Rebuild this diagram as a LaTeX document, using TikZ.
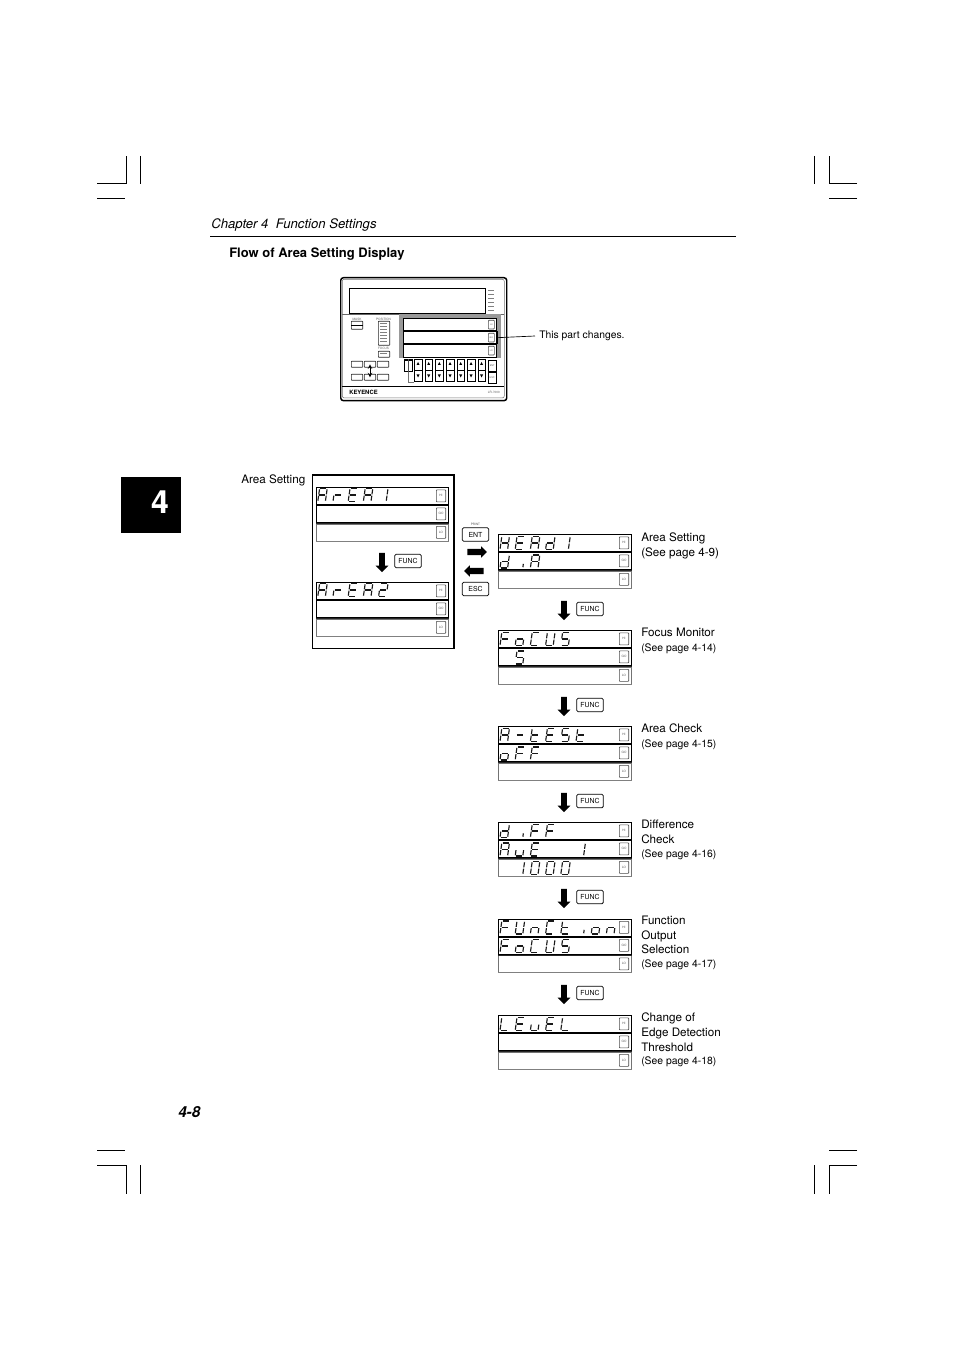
\documentclass[tikz,border=0pt]{standalone}
\usepackage{fontspec}
\setmainfont{TeX Gyre Heros}
\usetikzlibrary{shapes.arrows}

% seven segment strokes, cell is 7.6 wide and 13 high
\def\sega{\draw[segstroke] (0.8,0) -- (6.8,0);}
\def\segb{\draw[segstroke] (7.6,0.8) -- (7.6,5.9);}
\def\segc{\draw[segstroke] (7.6,7.1) -- (7.6,12.2);}
\def\segd{\draw[segstroke] (0.8,13) -- (6.8,13);}
\def\sege{\draw[segstroke] (0,7.1) -- (0,12.2);}
\def\segf{\draw[segstroke] (0,0.8) -- (0,5.9);}
\def\segg{\draw[segstroke] (0.8,6.5) -- (6.8,6.5);}
\def\segj{\draw[segstroke] (7.6,8.8) -- (7.6,12.2);}
\def\segn{}
% which strokes each character lights
\newcommand{\setglyph}[2]{\expandafter\def\csname glyph#1\endcsname{#2}}
\setglyph{A}{a,b,c,e,f,g}
\setglyph{C}{a,d,e,f}
\setglyph{E}{a,d,e,f,g}
\setglyph{F}{a,e,f,g}
\setglyph{H}{b,c,e,f,g}
\setglyph{L}{d,e,f}
\setglyph{S}{a,c,d,f,g}
\setglyph{U}{b,c,d,e,f}
\setglyph{d}{b,c,d,e,g}
\setglyph{i}{j}
\setglyph{n}{c,e,g}
\setglyph{o}{c,d,e,g}
\setglyph{r}{e,g}
\setglyph{t}{d,e,f,g}
\setglyph{u}{c,d,e}
\setglyph{0}{a,b,c,d,e,f}
\setglyph{1}{b,c}
\setglyph{2}{a,b,d,e,g}
\setglyph{5}{a,c,d,f,g}
\setglyph{-}{g}
\setglyph{_}{n}

\newcommand{\segrow}[3]{%
  \foreach \ch [count=\k from 0] in {#3} {
    \edef\seglist{\csname glyph\ch\endcsname}
    \begin{scope}[shift={(#1+1.8+\k*15.2,#2)},xslant=0.14]
      \foreach \s in \seglist {\csname seg\s\endcsname}
    \end{scope}
  }}

% one display: name, x, y, width, contents
\newcommand{\dispgroup}[5]{%
  \node[window,minimum width=#4*0.75pt] (#1hi) at (#2,#3) {};
  \node[window,minimum width=#4*0.75pt] (#1go) at (#2,#3+18) {};
  \node[windowlow,minimum width=#4*0.75pt] (#1lo) at (#2,#3+36.5) {};
  \draw[topedge] (#1lo.north west) -- (#1lo.north east);
  \draw[lowedge] (#1lo.south west) -- (#1lo.south east);
  \node[keybox] (#1hikey) at (#2+#4-12,#3+2.5) {HI};
  \node[keybox] (#1gokey) at (#2+#4-12,#3+20.5) {GO};
  \node[keybox] (#1lokey) at (#2+#4-12,#3+39) {LO};
  #5}

\newcommand{\funcstep}[3]{%
  \node[downarrow] (#1arrow) at (#2,#3) {};
  \node[keyname] (#1key) at (#2+26,#3) {FUNC};}

\begin{document}
\begin{tikzpicture}[x=0.75pt,y=-0.75pt]
      \tikzstyle{segstroke} = [draw=black!90, line width=0.85pt]
      \tikzstyle{crop} = [draw=black, line width=0.75pt]
      \tikzstyle{window} = [rectangle, draw=black, line width=0.8pt, anchor=north west, minimum height=12.8pt, inner sep=0pt]
      \tikzstyle{windowlow} = [window, draw=black!55, line width=0.5pt]
      \tikzstyle{topedge} = [draw=black!85, line width=0.5pt]
      \tikzstyle{lowedge} = [draw=black!50, line width=1pt]
      \tikzstyle{keybox} = [rectangle, rounded corners=0.5pt, draw=black!70, line width=0.5pt, anchor=north west, minimum width=7pt, minimum height=9pt, inner sep=0pt, font=\fontsize{2.3pt}{3pt}\selectfont, text=black!70]
      \tikzstyle{keyname} = [rectangle, rounded corners=1pt, draw=black, line width=0.6pt, minimum width=20pt, minimum height=10pt, inner sep=0pt, font=\fontsize{5.2pt}{6pt}\selectfont]
      \tikzstyle{downarrow} = [single arrow, fill=black, inner sep=2pt, shape border rotate=270, minimum height=14.5pt, single arrow head extend=2.6pt, single arrow tip angle=90]
      \tikzstyle{sidearrow} = [single arrow, fill=black, inner sep=2.2pt, minimum height=14.5pt, single arrow head extend=1.9pt, single arrow tip angle=90]
      \tikzstyle{caption} = [anchor=north west, inner sep=0pt, align=left, font=\fontsize{8.75pt}{10.9pt}\selectfont]
      \tikzstyle{seepage} = [anchor=north west, inner sep=0pt, font=\fontsize{7.8pt}{9pt}\selectfont]
      \tikzstyle{readout} = [anchor=north west, inner sep=0pt, text opacity=0, font=\fontsize{9pt}{10pt}\selectfont]
      \tikzstyle{panelkey} = [rectangle, rounded corners=0.4pt, draw=black!85, line width=0.5pt, anchor=north west, inner sep=0pt, minimum width=8.5pt, minimum height=4.5pt]
      \tikzstyle{padkey} = [rectangle, draw=black, line width=0.5pt, anchor=north west, inner sep=0pt, minimum width=5.8pt, minimum height=8pt]
      \tikzstyle{tinytext} = [inner sep=0pt, text=black!65, font=\fontsize{2.3pt}{3pt}\selectfont]
      \useasboundingbox (0,0) rectangle (954,1351);
      %crop marks
      \draw[crop] (97,184) -- (126,184) -- (126,156);
      \draw[crop] (140,156) -- (140,184);
      \draw[crop] (97,199) -- (125,199);
      \draw[crop] (857,184) -- (829,184) -- (829,156);
      \draw[crop] (814,156) -- (814,184);
      \draw[crop] (857,199) -- (829,199);
      \draw[crop] (97,1165) -- (126,1165) -- (126,1194);
      \draw[crop] (140,1165) -- (140,1194);
      \draw[crop] (97,1150) -- (125,1150);
      \draw[crop] (857,1165) -- (829,1165) -- (829,1194);
      \draw[crop] (814,1165) -- (814,1194);
      \draw[crop] (857,1150) -- (829,1150);
      %page furniture
      \node[anchor=base west, inner sep=0pt, font=\itshape\fontsize{9.85pt}{11pt}\selectfont] (chapter) at (211,229) {Chapter 4\ \ Function Settings};
      \coordinate (ruleleft) at (210,236);
      \coordinate (ruleright) at (736,236);
      \draw[line width=0.6pt] (ruleleft) -- (ruleright);
      \node[anchor=base west, inner sep=0pt, font=\bfseries\fontsize{9.75pt}{11pt}\selectfont] (flowtitle) at (229,258) {Flow of Area Setting Display};
      \node[fill=black, anchor=north west, minimum width=45pt, minimum height=41.5pt, inner sep=0pt] (tab) at (121,477) {};
      \node[text=white, inner sep=0pt, font=\bfseries\fontsize{24pt}{25pt}\selectfont] (tabdigit) at (160,502.5) {4};
      \node[anchor=base west, inner sep=0pt, font=\bfseries\itshape\fontsize{11.4pt}{14pt}\selectfont] (pageno) at (178,1117) {4-8};
      %front panel
      \node[rectangle, rounded corners=2pt, draw=black, line width=1.1pt, anchor=north west, minimum width=124.5pt, minimum height=92.2pt, inner sep=0pt] (panel) at (340,277) {};
      \node[rectangle, rounded corners=1.5pt, draw=black!55, line width=0.4pt, anchor=north west, minimum width=121.5pt, minimum height=89pt, inner sep=0pt] (panelin) at (342,279) {};
      \node[rectangle, draw=black, line width=0.5pt, anchor=north west, minimum width=102pt, minimum height=18.7pt, inner sep=0pt] (bigdisp) at (349,288) {};
      \foreach \iy in {290,294,298,302,306,310}
        \fill[black!50] (488,\iy) rectangle (494,\iy+1.2);
      \draw[black!60, line width=0.4pt] (342,314) -- (504,314);
      \fill[black!40] (399,314) rectangle (501,358);
      \node[window, line width=0.6pt, fill=white, minimum width=69.7pt, minimum height=9pt] (panelhi) at (403,318) {};
      \node[window, fill=white, line width=1pt, minimum width=70pt, minimum height=9pt] (panelgo) at (403,331) {};
      \node[window, line width=0.6pt, fill=white, minimum width=69.7pt, minimum height=9.6pt] (panello) at (403,344.5) {};
      \node[keybox, fill=white, minimum width=4.5pt, minimum height=6.5pt, font=\fontsize{1.6pt}{2pt}\selectfont] (panelhikey) at (488,320) {HI};
      \node[keybox, fill=white, minimum width=4.5pt, minimum height=6.5pt, font=\fontsize{1.6pt}{2pt}\selectfont] (panelgokey) at (488,333) {GO};
      \node[keybox, fill=white, minimum width=4.5pt, minimum height=6.5pt, font=\fontsize{1.6pt}{2pt}\selectfont] (panellokey) at (488,346) {LO};
      %panel left side
      \node[tinytext] (masklabel) at (357,319) {MASK};
      \node[panelkey, minimum height=6pt] (maskbox) at (351,321) {};
      \draw[line width=0.5pt] (maskbox.west) -- (maskbox.east);
      \node[tinytext] (poslabel) at (383.5,319) {POSITION};
      \node[panelkey, minimum height=18pt] (posbox) at (378,321) {};
      \foreach \iy in {323,326,329,332,335,338,341}
        \fill[black!50] (380,\iy) rectangle (387,\iy+1.2);
      \node[tinytext] (focuslabel) at (383.5,348.7) {FOCUS};
      \node[panelkey] (focusbox) at (378,351) {};
      \fill[black!50] (380,353) rectangle (387,354.2);
      \node[panelkey] (btnone) at (351,361) {};
      \node[panelkey] (btntwo) at (364,361) {};
      \node[panelkey] (btnthree) at (377,361) {};
      \node[panelkey] (btnfour) at (351,374) {};
      \node[panelkey] (btnfive) at (364,374) {};
      \node[panelkey] (btnsix) at (377,374) {};
      \draw[<->, >=stealth, line width=0.5pt] (btntwo.center) -- (btnfive.center);
      \node[rectangle, draw=black, line width=1pt, anchor=north west, minimum width=6pt, minimum height=8.5pt, inner sep=0pt] (digit) at (403.5,359.5) {};
      \draw[black!70, line width=0.3pt] (digit.south) -- (digit.north);
      \coordinate (digitbend) at (414,382);
      \draw[black!55, line width=0.3pt] (digit.south) |- (digitbend);
      %panel keypad
      \foreach \kx [count=\i] in {414,424.7,435.3,446,456.7,467,477.5} {
        \node[padkey] (upkey\i) at (\kx,359) {};
        \node[padkey] (downkey\i) at (\kx,370) {};
        \fill (\kx+4,362) -- (\kx+2.5,365) -- (\kx+5.5,365) -- cycle;
        \fill (\kx+4,377.5) -- (\kx+2.5,374.5) -- (\kx+5.5,374.5) -- cycle;
      }
      \node[padkey, text=black!65, font=\fontsize{1.8pt}{2pt}\selectfont] (entmini) at (488,360) {ENT};
      \node[padkey, text=black!65, font=\fontsize{1.8pt}{2pt}\selectfont] (escmini) at (488,372) {ESC};
      \coordinate (panelruleleft) at (342,386);
      \coordinate (panelruleright) at (504,386);
      \draw[line width=0.6pt] (panelruleleft) -- (panelruleright);
      \node[anchor=west, inner sep=0pt, font=\bfseries\fontsize{4.4pt}{5pt}\selectfont] (brand) at (349,392.5) {KEYENCE};
      \node[tinytext, anchor=east] (model) at (500,392.5) {LR-7000};
      \node[anchor=west, inner sep=0pt, font=\fontsize{7.75pt}{9pt}\selectfont] (partnote) at (539,336) {This part changes.};
      \draw[line width=0.5pt] (panelgo.east) -- ([xshift=-3pt]partnote.west);
      %area setting frame
      \node[rectangle, draw=black, line width=0.75pt, anchor=north west, minimum width=105.7pt, minimum height=129.7pt, inner sep=0pt] (areaframe) at (312,475) {};
      \draw[line width=1.3pt] (areaframe.north west) -- (areaframe.north east) -- (areaframe.south east);
      \node[caption, anchor=base east] (areacap) at (305.5,483) {Area Setting};
      \dispgroup{areaone}{316}{487}{132}{
        \node[readout] (areaonetxt) at (318,488) {ArEA1};
        \segrow{317.8}{488.5}{A,r,E,A,1}}
      \funcstep{area}{382}{561}
      \dispgroup{areatwo}{316}{582}{132}{
        \node[readout] (areatwotxt) at (318,584) {ArEA2};
        \segrow{317.8}{583.5}{A,r,E,A,2}}
      %enter and escape
      \node[tinytext] (printlabel) at (475.5,524) {PRINT};
      \node[keyname] (ent) at (475.5,534.5) {ENT};
      \node[sidearrow] (goarrow) at (475.5,552) {};
      \node[sidearrow, shape border rotate=180] (backarrow) at (475.5,571) {};
      \node[keyname] (esc) at (475.5,589) {ESC};
      %right column
      \dispgroup{headdisp}{498}{534}{133}{
        \node[readout] (headtxt) at (500,536) {HEAd1};
        \node[readout] (diatxt) at (500,554) {d iA};
        \segrow{500}{536.5}{H,E,A,d,1}
        \segrow{500}{555}{d,i,A}}
      \funcstep{head}{564}{609}
      \dispgroup{focusdisp}{498}{630}{133}{
        \node[readout] (focustxt) at (500,632) {FoCUS};
        \node[readout] (fivetxt) at (515,650) {5};
        \segrow{500}{632.5}{F,o,C,U,S}
        \segrow{500}{651}{_,5}}
      \funcstep{focus}{564}{705}
      \dispgroup{testdisp}{498}{726}{133}{
        \node[readout] (testtxt) at (500,728) {A-tESt};
        \node[readout] (offtxt) at (500,746) {oFF};
        \segrow{500}{728.5}{A,-,t,E,S,t}
        \segrow{500}{747}{o,F,F}}
      \funcstep{test}{564}{801}
      \dispgroup{diffdisp}{498}{822}{133}{
        \node[readout] (difftxt) at (500,824) {diFF};
        \node[readout] (avetxt) at (500,842) {AuE 1};
        \node[readout] (levtxt) at (515,861) {1000};
        \segrow{500}{824.5}{d,i,F,F}
        \segrow{500}{843}{A,u,E,_,_,1}
        \segrow{500}{861.5}{_,1,0,0,0}}
      \funcstep{diff}{564}{897}
      \dispgroup{funcdisp}{498}{918.5}{133}{
        \node[readout] (functxt) at (500,920) {FUnCtion};
        \node[readout] (outtxt) at (500,938) {FoCUS};
        \segrow{500}{921}{F,U,n,C,t,i,o,n}
        \segrow{500}{939.5}{F,o,C,U,S}}
      \funcstep{func}{564}{993}
      \dispgroup{leveldisp}{498}{1015}{133}{
        \node[readout] (leveltxt) at (500,1017) {LEuEL};
        \segrow{500}{1017.5}{L,E,u,E,L}}
      %captions
      \node[caption] (capone) at (641,533) {Area Setting\\(See page 4-9)};
      \node[caption] (captwo) at (641,628) {Focus Monitor};
      \node[seepage] (seetwo) at (641,643) {(See page 4-14)};
      \node[caption] (capthree) at (641,724) {Area Check};
      \node[seepage] (seethree) at (641,739) {(See page 4-15)};
      \node[caption] (capfour) at (641,820) {Difference\\Check};
      \node[seepage] (seefour) at (641,849) {(See page 4-16)};
      \node[caption] (capfive) at (641,916) {Function\\Output\\Selection};
      \node[seepage] (seefive) at (641,959) {(See page 4-17)};
      \node[caption] (capsix) at (641,1013) {Change of\\Edge Detection\\Threshold};
      \node[seepage] (seesix) at (641,1056) {(See page 4-18)};
    \end{tikzpicture}
\end{document}
